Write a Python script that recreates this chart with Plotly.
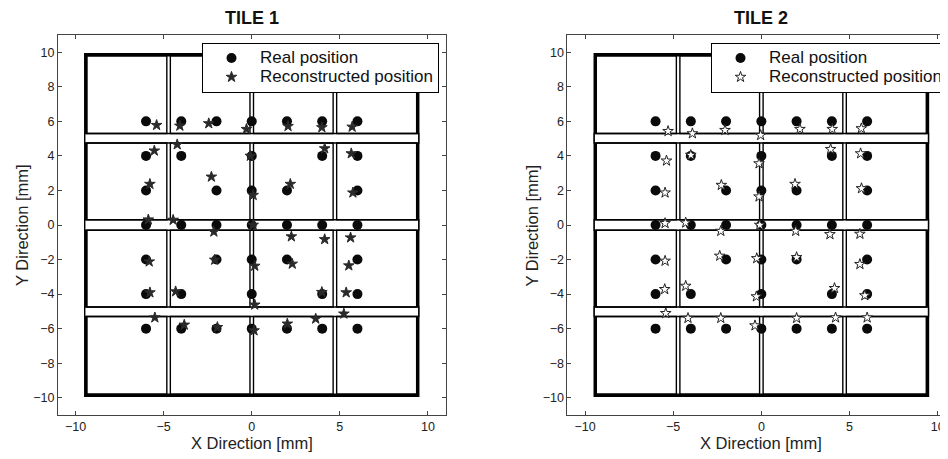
import plotly.graph_objects as go

# ---------------- data ----------------
real_x = [-6, -4, -2, 0, 2, 4, 6,
          -6, -4, 0, 4, 6,
          -6, -2, 0, 2, 6,
          -6, -4, -2, 0, 2, 4, 6,
          -6, -2, 0, 2, 6,
          -6, -4, 0, 4, 6,
          -6, -4, -2, 0, 2, 4, 6]
real_y = [6, 6, 6, 6, 6, 6, 6,
          4, 4, 4, 4, 4,
          2, 2, 2, 2, 2,
          0, 0, 0, 0, 0, 0, 0,
          -2, -2, -2, -2, -2,
          -4, -4, -4, -4, -4,
          -6, -6, -6, -6, -6, -6, -6]

tile1_rec_x = [-5.40, -4.08, -2.44, -0.30, 2.06, 3.98, 5.70,
               -5.53, -4.23, -0.08, 4.14, 5.65,
               -5.78, -2.29, 0.08, 2.19, 5.74,
               -5.87, -4.46, -2.15, 0.08, 2.25, 4.14, 5.61,
               -5.82, -2.10, 0.17, 2.30, 5.51,
               -5.78, -4.32, 0.17, 3.98, 5.36,
               -5.50, -3.83, -1.95, 0.13, 2.02, 3.63, 5.23]
tile1_rec_y = [5.78, 5.74, 5.88, 5.55, 5.72, 5.65, 5.68,
               4.30, 4.66, 4.00, 4.43, 4.14,
               2.37, 2.79, 1.73, 2.37, 1.87,
               0.31, 0.29, -0.39, 0.00, -0.67, -0.83, -0.73,
               -2.12, -2.02, -2.37, -2.25, -2.35,
               -3.91, -3.85, -4.62, -3.89, -3.91,
               -5.36, -5.78, -5.92, -6.11, -5.72, -5.43, -5.14]

tile2_rec_x = [-5.29, -3.91, -2.06, -0.04, 2.19, 4.02, 5.67,
               -5.38, -4.00, -0.13, 3.93, 5.63,
               -5.46, -2.27, -0.13, 1.91, 5.68,
               -5.46, -4.29, -2.30, -0.09, 1.95, 3.89, 5.59,
               -5.46, -2.36, -0.26, 2.00, 5.59,
               -5.48, -4.29, -0.28, 4.15, 5.87,
               -5.42, -4.16, -2.30, -0.36, 2.00, 4.21, 6.00]
tile2_rec_y = [5.43, 5.30, 5.49, 5.20, 5.55, 5.55, 5.59,
               3.72, 4.05, 3.56, 4.39, 4.14,
               1.87, 2.31, 1.64, 2.37, 2.12,
               0.10, 0.13, -0.35, 0.00, -0.35, -0.54, -0.52,
               -2.08, -1.79, -1.93, -1.87, -2.27,
               -3.72, -3.53, -4.14, -3.66, -4.08,
               -5.11, -5.39, -5.39, -5.82, -5.39, -5.36, -5.36]

# tile geometry (mm)
tile_cols = [(-9.37, -4.82), (-4.62, -0.10), (0.10, 4.62), (4.82, 9.37)]
tile_rows = [(5.30, 9.80), (0.30, 4.75), (-4.75, -0.30), (-9.80, -5.30)]
row_gaps = [(4.75, 5.30), (-0.30, 0.30), (-5.30, -4.75)]
outer_x = (-9.42, 9.42)
outer_y = (-9.85, 9.85)

x_ticks = [-10, -5, 0, 5, 10]
y_ticks = [-10, -8, -6, -4, -2, 0, 2, 4, 6, 8, 10]
titles = ["TILE 1", "TILE 2"]
legend_names = ["Real position", "Reconstructed position"]

FONT = "Liberation Sans, Arial, Helvetica, sans-serif"
# the page body has an 8px margin; the figure fills the rest of the 948x459 window
OFF = 8
W, H = 948 - OFF, 459 - OFF


def fx(px):
    return (px - OFF) / W


def fy(py):
    return 1 - (py - OFF) / H


def lname(s):
    return "<span style='font-size:17px'>" + s + "</span>"


fig = go.Figure()

# ---------------- traces ----------------
panels = [("x", "y", "legend", tile1_rec_x, tile1_rec_y, "#2a2a2a", "#2a2a2a"),
          ("x2", "y2", "legend2", tile2_rec_x, tile2_rec_y, "white", "#222222")]
for xa, ya, lg, rx, ry, fillc, linec in panels:
    fig.add_trace(go.Scatter(
        x=real_x, y=real_y, mode="markers", name=lname(legend_names[0]),
        xaxis=xa, yaxis=ya, legend=lg,
        marker=dict(symbol="circle", size=10, color="#0a0a0a",
                    line=dict(width=0))))
    fig.add_trace(go.Scatter(
        x=rx, y=ry, mode="markers", name=lname(legend_names[1]),
        xaxis=xa, yaxis=ya, legend=lg,
        marker=dict(symbol="star", size=8, color=fillc,
                    line=dict(width=1, color=linec))))

# ---------------- tile drawings ----------------
shapes = []
for xr, yr in (("x", "y"), ("x2", "y2")):
    shapes.append(dict(type="rect", xref=xr, yref=yr, layer="below",
                       x0=outer_x[0], x1=outer_x[1], y0=outer_y[0], y1=outer_y[1],
                       line=dict(color="black", width=3.5)))
    for g0, g1 in row_gaps:
        shapes.append(dict(type="rect", xref=xr, yref=yr, layer="below",
                           x0=outer_x[0] - 0.06, x1=outer_x[1] + 0.06, y0=g0, y1=g1,
                           fillcolor="white", line=dict(color="black", width=1.4)))
    for c0, c1 in tile_cols:
        for r0, r1 in tile_rows:
            shapes.append(dict(type="rect", xref=xr, yref=yr, layer="below",
                               x0=c0, x1=c1, y0=r0, y1=r1,
                               line=dict(color="black", width=1.4)))

axis_common = dict(showgrid=False, zeroline=False, showline=True, mirror="ticks",
                   linecolor="#444444", linewidth=1, ticks="inside", ticklen=4,
                   tickcolor="#444444", tickfont=dict(size=12.5, color="#222222"),
                   automargin=False)

legend_common = dict(xanchor="left", yanchor="top", bgcolor="white",
                     bordercolor="black", borderwidth=1, itemwidth=47,
                     font=dict(size=12, color="#111111"))

fig.update_layout(
    width=W, height=H,
    margin=dict(l=0, r=0, t=0, b=0),
    paper_bgcolor="white", plot_bgcolor="white",
    font=dict(family=FONT, color="#111111"),
    shapes=shapes,
    xaxis=dict(domain=[fx(58), fx(446)], range=[-11, 11], tickvals=x_ticks,
               anchor="y", **axis_common),
    yaxis=dict(domain=[fy(415), fy(35)], range=[-11, 11], tickvals=y_ticks,
               anchor="x", **axis_common),
    xaxis2=dict(domain=[fx(568), 1.0], range=[-11, 10.53], tickvals=x_ticks,
                anchor="y2", **axis_common),
    yaxis2=dict(domain=[fy(415), fy(35)], range=[-11, 11], tickvals=y_ticks,
                anchor="x2", **axis_common),
    legend=dict(x=fx(202), y=fy(42.5), **legend_common),
    legend2=dict(x=fx(712), y=fy(42.5), **legend_common),
    showlegend=True,
)

annotations = []
for cx, t in zip((252, 762), titles):
    annotations.append(dict(text="<b>" + t + "</b>", x=fx(cx), y=fy(18),
                            xref="paper", yref="paper", showarrow=False,
                            xanchor="center", yanchor="middle",
                            font=dict(size=18, color="#111111")))
    annotations.append(dict(text="X Direction [mm]", x=fx(cx), y=fy(443),
                            xref="paper", yref="paper", showarrow=False,
                            xanchor="center", yanchor="middle",
                            font=dict(size=16.5, color="#222222")))
for cx in (22, 533):
    annotations.append(dict(text="Y Direction [mm]", x=fx(cx), y=fy(225),
                            xref="paper", yref="paper", showarrow=False,
                            xanchor="center", yanchor="middle", textangle=-90,
                            font=dict(size=16.5, color="#222222")))
fig.update_layout(annotations=annotations)

fig.write_html("out.html")
